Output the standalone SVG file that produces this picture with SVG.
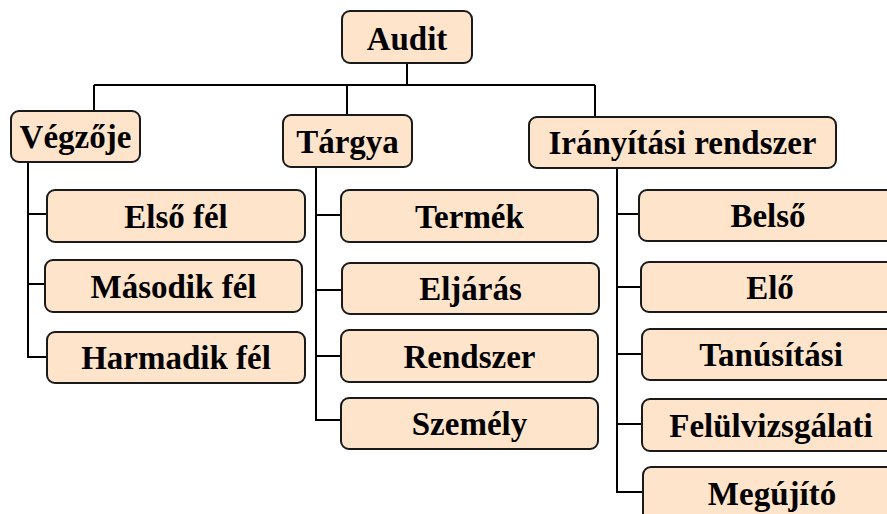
<svg xmlns="http://www.w3.org/2000/svg" width="887" height="514" viewBox="0 0 887 514">
<style>
.box{fill:#FFE4CC;stroke:#1a1a1a;stroke-width:2}
.c{fill:none;stroke:#000;stroke-width:2}
.t{font-family:"Liberation Serif","Times New Roman",serif;font-weight:bold;font-size:33px;fill:#000;text-anchor:middle}
</style>
<rect width="887" height="514" fill="#fff"/>
<g id="connectors">
<path class="c" d="M407 63V85M94 85H595M94 85V111M347 85V115M595 85V117"/>
<path class="c" d="M28 162V357H47M28 214H47M28 284H45"/>
<path class="c" d="M316 167V420H341M316 215H341M316 290H342M316 356H341"/>
<path class="c" d="M617 168V492H643M617 214H639M617 287H641M617 354H642M617 424H642"/>
</g>
<g id="audit"><rect class="box" x="342" y="11" width="130" height="52" rx="8"/><text class="t" x="407" y="50">Audit</text></g>
<g id="vegzoje"><rect class="box" x="11" y="111" width="129" height="51" rx="8"/><text class="t" x="75.5" y="148">Végzője</text></g>
<g id="targya"><rect class="box" x="283" y="115" width="129" height="52" rx="8"/><text class="t" x="347.5" y="153">Tárgya</text></g>
<g id="iranyitasi"><rect class="box" x="529" y="117" width="307" height="51" rx="8"/><text class="t" x="682.5" y="154">Irányítási rendszer</text></g>
<g id="elso"><rect class="box" x="47" y="190" width="258" height="52" rx="8"/><text class="t" x="176" y="228">Első fél</text></g>
<g id="masodik"><rect class="box" x="45" y="260" width="257" height="52" rx="8"/><text class="t" x="173.5" y="298">Második fél</text></g>
<g id="harmadik"><rect class="box" x="47" y="332" width="258" height="51" rx="8"/><text class="t" x="176" y="369">Harmadik fél</text></g>
<g id="termek"><rect class="box" x="341" y="190" width="257" height="52" rx="8"/><text class="t" x="469.5" y="228">Termék</text></g>
<g id="eljaras"><rect class="box" x="342" y="263" width="257" height="51" rx="8"/><text class="t" x="470.5" y="300">Eljárás</text></g>
<g id="rendszer"><rect class="box" x="341" y="330" width="257" height="52" rx="8"/><text class="t" x="469.5" y="368">Rendszer</text></g>
<g id="szemely"><rect class="box" x="341" y="398" width="257" height="51" rx="8"/><text class="t" x="469.5" y="435">Személy</text></g>
<g id="belso"><rect class="box" x="639" y="190" width="258" height="51" rx="8"/><text class="t" x="768" y="227">Belső</text></g>
<g id="elo"><rect class="box" x="641" y="262" width="258" height="50" rx="8"/><text class="t" x="770" y="299">Elő</text></g>
<g id="tanusitasi"><rect class="box" x="642" y="329" width="258" height="51" rx="8"/><text class="t" x="771" y="366">Tanúsítási</text></g>
<g id="felulvizsgalati"><rect class="box" x="642" y="399" width="258" height="52" rx="8"/><text class="t" x="771" y="437">Felülvizsgálati</text></g>
<g id="megujito"><rect class="box" x="643" y="467" width="258" height="60" rx="8"/><text class="t" x="772" y="505">Megújító</text></g>
</svg>
